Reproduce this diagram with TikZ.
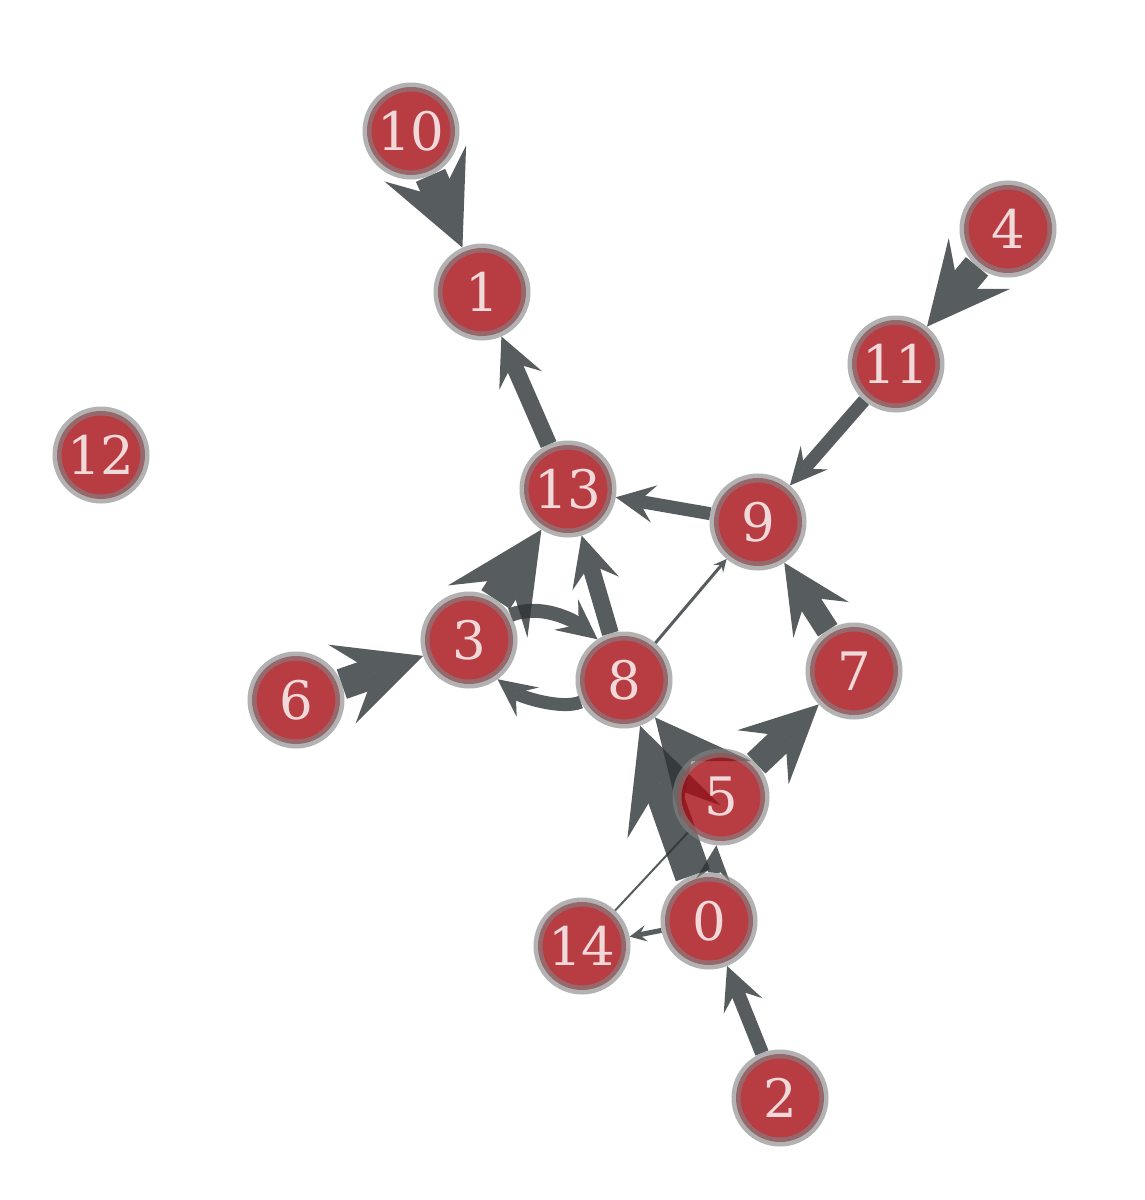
\documentclass[tikz,border=0pt]{standalone}
\usepackage{fontspec}
\setmainfont{DejaVu Serif}
\usetikzlibrary{arrows.meta}
\definecolor{ecol}{HTML}{2E3436}
\definecolor{vfill}{RGB}{165,13,20}
\definecolor{vring}{RGB}{132,132,132}
\definecolor{vtext}{RGB}{241,216,217}
\pgfdeclarelayer{bg}
\pgfdeclarelayer{edges}
\pgfsetlayers{bg,edges,main}
\newcommand\gedge[4]{%
  \pgfmathsetmacro\gLen{#2}\pgfmathsetmacro\gWid{0.97*#2}\pgfmathsetmacro\gIns{0.4*#2}%
  \begin{scope}[transparency group, opacity=0.8]
    \draw[ecol, line width=#1pt, -{Stealth[length=\gLen pt, width=\gWid pt, inset=\gIns pt, line width=0pt]}] (#3) -- (#4);
  \end{scope}}
\newcommand\gcurve[6]{%
  \pgfmathsetmacro\gLen{#2}\pgfmathsetmacro\gWid{0.97*#2}\pgfmathsetmacro\gIns{0.4*#2}%
  \begin{scope}[transparency group, opacity=0.8]
    \draw[ecol, line width=#1pt, -{Stealth[length=\gLen pt, width=\gWid pt, inset=\gIns pt, line width=0pt]}] (#3) .. controls #4 and #5 .. (#6);
  \end{scope}}
\tikzset{vert/.style={circle, minimum size=88pt, inner sep=0pt, line width=9pt,
  fill=vfill, fill opacity=0.8, draw=vring, draw opacity=0.62,
  text=vtext, text opacity=1, font=\fontsize{53}{53}\selectfont}}
\begin{document}
\begin{tikzpicture}[x=1pt,y=-1pt]
\useasboundingbox (0,0) rectangle (1145,1200);
\begin{pgfonlayer}{bg}
  \fill[white] (0,0) rectangle (1145,1200);
\end{pgfonlayer}
\node[vert] (n10) at (411,131) {10};
\node[vert] (n1)  at (482,292) {1};
\node[vert] (n4)  at (1008,229) {4};
\node[vert] (n11) at (896,364) {11};
\node[vert] (n12) at (101,455) {12};
\node[vert] (n13) at (568,489) {13};
\node[vert] (n9)  at (758,522) {9};
\node[vert] (n3)  at (469,640) {3};
\node[vert] (n6)  at (296,700) {6};
\node[vert] (n8)  at (624,680) {8};
\node[vert] (n7)  at (854,671) {7};
\node[vert] (n5)  at (721,797) {5};
\node[vert] (n0)  at (709,921) {0};
\node[vert] (n14) at (582,946) {14};
\node[vert] (n2)  at (780,1098) {2};
\begin{pgfonlayer}{edges}
  \gedge{32}{92}{n10}{n1}
  \gedge{29}{82}{n4}{n11}
  \gedge{13}{37}{n11}{n9}
  \gedge{13}{39}{n9}{n13}
  \gedge{23}{68}{n7}{n9}
  \gedge{3}{13}{n8}{n9}
  \gedge{17}{48}{n13}{n1}
  \gedge{17}{50}{n8}{n13}
  \gedge{34}{98}{n3}{n13}
  \gedge{36}{102}{n0}{n8}
  \gedge{33}{95}{n5}{n8}
  \gedge{27}{77}{n5}{n7}
  \gedge{31}{86}{n6}{n3}
  \gedge{14}{43}{n2}{n0}
  \gedge{5}{17}{n0}{n14}
  \gedge{12}{35}{n0}{n5}
  \draw[ecol, opacity=0.8, line width=2pt] (n14) -- (n5);
  \gcurve{14}{40}{n3.31}{(540,603)}{(573,620)}{n8.123}
  \gcurve{13}{38}{n8.207}{(562,710)}{(521,697)}{n3.306}
\end{pgfonlayer}
\end{tikzpicture}
\end{document}
